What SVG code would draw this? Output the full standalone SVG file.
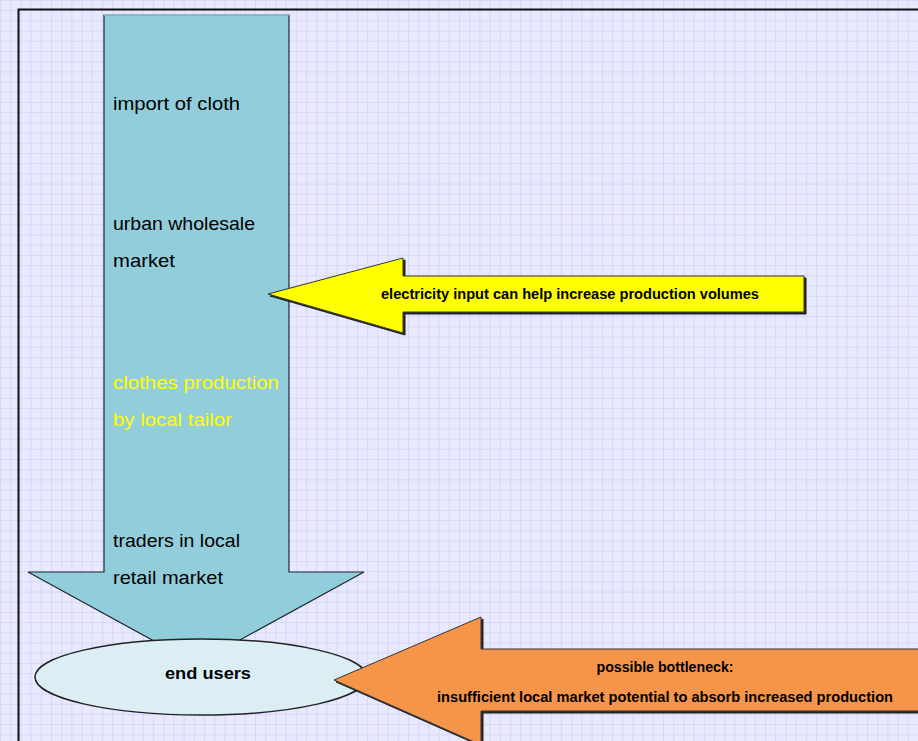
<svg xmlns="http://www.w3.org/2000/svg" width="918" height="741" viewBox="0 0 918 741">
<defs>
<pattern id="grid" x="0" y="0" width="10.2" height="10.2" patternUnits="userSpaceOnUse">
<rect width="10.2" height="10.2" fill="#e8e8ff"/>
<path d="M0.5 0V10.2M0 0.5H10.2" stroke="#d6d6fa" stroke-width="1" fill="none"/>
</pattern>
<filter id="sh" x="-5%" y="-5%" width="110%" height="120%">
<feDropShadow dx="2" dy="2" stdDeviation="0" flood-color="#000" flood-opacity="0.85"/>
</filter>
</defs>
<style>
.t{font-family:"Liberation Sans",Arial,sans-serif;font-size:19px;fill:#000}
.b{font-family:"Liberation Sans",Arial,sans-serif;font-weight:bold;font-size:14px;fill:#000}
</style>
<rect width="918" height="741" fill="url(#grid)"/>
<rect x="18.5" y="9.5" width="950" height="800" fill="none" stroke="#111" stroke-width="2"/>

<g id="flow">
<polygon points="104,15 289,15 289,572 364,572 196,664 28,572 104,572" fill="#92cddb" stroke="#1e2a30" stroke-width="1.2"/>
<line x1="104" y1="15" x2="289" y2="15" stroke="#92cddb" stroke-width="1.5"/>
<text class="t" x="113" y="110" textLength="127" lengthAdjust="spacingAndGlyphs">import of cloth</text>
<text class="t" x="113" y="230" textLength="142" lengthAdjust="spacingAndGlyphs">urban wholesale</text>
<text class="t" x="113" y="267" textLength="62" lengthAdjust="spacingAndGlyphs">market</text>
<text class="t" x="113" y="389" textLength="166" lengthAdjust="spacingAndGlyphs" style="fill:#ffff00">clothes production</text>
<text class="t" x="113" y="426" textLength="119" lengthAdjust="spacingAndGlyphs" style="fill:#ffff00">by local tailor</text>
<text class="t" x="113" y="547" textLength="127" lengthAdjust="spacingAndGlyphs">traders in local</text>
<text class="t" x="113" y="584" textLength="110" lengthAdjust="spacingAndGlyphs">retail market</text>
</g>

<g id="end-users">
<ellipse cx="201" cy="677" rx="166" ry="38" fill="#dbeef4" stroke="#222" stroke-width="1.5"/>
<text class="b" x="208" y="679" text-anchor="middle" style="font-size:17px" textLength="86" lengthAdjust="spacingAndGlyphs">end users</text>
</g>

<g id="electricity">
<polygon points="268,294 403,258 403,276 804,276 804,312 403,312 403,333" fill="#ffff00" stroke="#333" stroke-width="1" filter="url(#sh)"/>
<text class="b" x="570" y="299" text-anchor="middle" textLength="378" lengthAdjust="spacingAndGlyphs">electricity input can help increase production volumes</text>
</g>

<g id="bottleneck">
<polygon points="334,680 481,617 481,649 930,649 930,711 481,711 481,745" fill="#f59548" stroke="#333" stroke-width="1" filter="url(#sh)"/>
<text class="b" x="665" y="672" text-anchor="middle" textLength="137" lengthAdjust="spacingAndGlyphs">possible bottleneck:</text>
<text class="b" x="665" y="702" text-anchor="middle" textLength="456" lengthAdjust="spacingAndGlyphs">insufficient local market potential to absorb increased production</text>
</g>

<g id="connectors"></g>
</svg>
